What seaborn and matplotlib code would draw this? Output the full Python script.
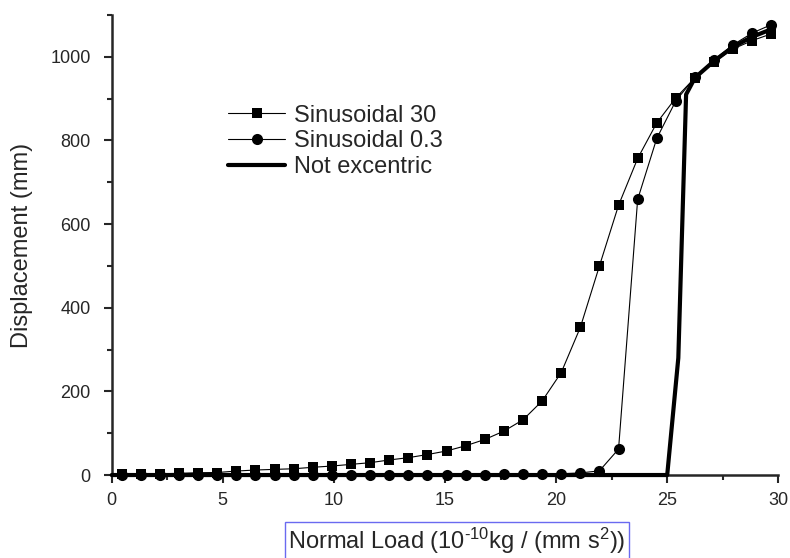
import matplotlib
matplotlib.use('Agg')
import matplotlib.pyplot as plt
import seaborn as sns
import pandas as pd
from matplotlib.ticker import MultipleLocator

# load values shared by both sinusoidal series
load = [0.45, 1.31, 2.17, 3.03, 3.89, 4.75, 5.61, 6.47, 7.33, 8.19,
        9.05, 9.91, 10.77, 11.63, 12.49, 13.35, 14.21, 15.07, 15.93, 16.79,
        17.65, 18.51, 19.37, 20.23, 21.09, 21.95, 22.81, 23.67, 24.53, 25.39,
        26.25, 27.11, 27.97, 28.83, 29.69]

sin30 = [2, 2.5, 3, 4, 5.5, 6, 9.5, 12, 13.5, 15,
         18.5, 21.5, 25.5, 29.5, 36, 41.5, 49, 57.5, 70, 85,
         105, 132, 177, 245, 353, 500, 645, 757, 842, 902,
         950, 988, 1019, 1039, 1055]

sin03 = [1, 1, 1, 1, 1, 1, 1, 1, 1, 1,
         1, 1, 1, 1, 1, 1, 1, 1, 1, 1,
         1.5, 2, 2.5, 3, 5, 10, 62, 659, 805, 895,
         951, 993, 1029, 1057, 1077]

# not excentric curve
ne_load = [0, 25.0, 25.5, 25.85, 26.25, 27.11, 27.97, 28.83, 29.69]
ne_disp = [0, 0, 280, 910, 950, 990, 1024, 1048, 1066]

df = pd.DataFrame({'load': load, 'sin30': sin30, 'sin03': sin03})
df_ne = pd.DataFrame({'load': ne_load, 'disp': ne_disp})

sns.set_style('ticks')
plt.rcParams['font.family'] = ['Liberation Sans', 'DejaVu Sans']
plt.rcParams['mathtext.default'] = 'regular'

fig = plt.figure(figsize=(7.9, 5.58), dpi=100)
ax = fig.add_axes([0.1414, 0.1487, 0.8438, 0.8244])

sns.lineplot(data=df, x='load', y='sin30', ax=ax, color='black', lw=0.8,
             marker='s', markersize=7.2, markeredgewidth=0, label='Sinusoidal 30',
             clip_on=False, zorder=3)
sns.lineplot(data=df, x='load', y='sin03', ax=ax, color='black', lw=0.8,
             marker='o', markersize=8, markeredgewidth=0, label='Sinusoidal 0.3',
             clip_on=False, zorder=3)
sns.lineplot(data=df_ne, x='load', y='disp', ax=ax, color='black', lw=3,
             label='Not excentric', clip_on=False, zorder=3)

ax.set_xlim(0, 30)
ax.set_ylim(0, 1100)
ax.xaxis.set_major_locator(MultipleLocator(5))
ax.xaxis.set_minor_locator(MultipleLocator(2.5))
ax.yaxis.set_major_locator(MultipleLocator(200))
ax.yaxis.set_minor_locator(MultipleLocator(100))
ax.set_yticks([0, 200, 400, 600, 800, 1000])

sns.despine(ax=ax)
for s in ['left', 'bottom']:
    ax.spines[s].set_linewidth(1.8)
ax.tick_params(which='major', length=6, width=1.5, labelsize=13, direction='out')
ax.tick_params(which='minor', length=3.5, width=1.5, direction='out')
ax.tick_params(axis='x', which='major', pad=6)
ax.tick_params(axis='y', which='major', pad=9)

ax.set_ylabel('Displacement (mm)', fontsize=17)
ax.yaxis.set_label_coords(-0.134, 0.5)
ax.yaxis.label.set_va('center')

# hyphen (U+2010) in the exponent instead of the wider math minus
ax.set_xlabel('Normal Load (10$^{\u201010}$kg / (mm s$^{2}$))', fontsize=17,
              bbox=dict(boxstyle='square,pad=0.15', facecolor='none',
                        edgecolor='#6a6af0', linewidth=1))
ax.xaxis.set_label_coords(0.518, -0.1435)
ax.xaxis.label.set_va('center')

ax.legend(loc='upper left', bbox_to_anchor=(0.175, 0.805), frameon=False,
          fontsize=17, handlelength=2.4, handletextpad=0.4, labelspacing=0.15,
          borderpad=0, borderaxespad=0)

fig.savefig('out.png', dpi=100)
